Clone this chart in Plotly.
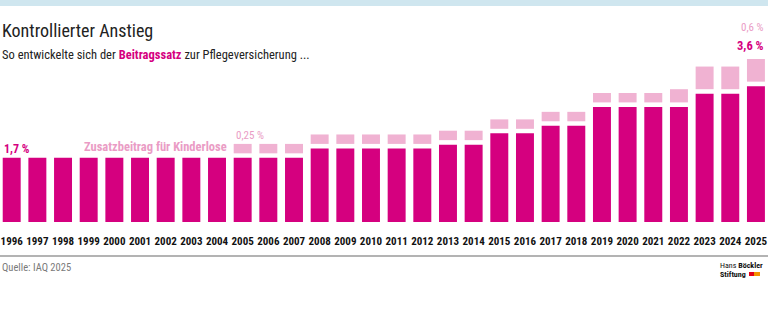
import plotly.graph_objects as go

years = [str(y) for y in range(1996, 2026)]
base_rate = [1.7]*12 + [1.95]*5 + [2.05]*2 + [2.35]*2 + [2.55]*2 + [3.05]*4 + [3.4]*2 + [3.6]
surcharge = [0]*9 + [0.25]*17 + [0.35] + [0.6]*3

MAGENTA = "#d5007f"
PINK = "#f0b2d2"
PINK_TXT = "#ea9cc5"
FONT = "Roboto Condensed"
GAP = 0.12

sur_base = [b + GAP for b in base_rate]
sur_y = [s if s > 0 else None for s in surcharge]

fig = go.Figure()
fig.add_trace(go.Bar(x=years, y=base_rate, marker=dict(color=MAGENTA, line=dict(width=0)),
                     hoverinfo="skip"))
fig.add_trace(go.Bar(x=years, y=sur_y, base=sur_base, marker=dict(color=PINK, line=dict(width=0)),
                     hoverinfo="skip"))

fig.update_layout(
    width=768, height=322,
    margin=dict(l=0, r=0, t=56, b=100),
    barmode="overlay", bargap=0.3,
    plot_bgcolor="white", paper_bgcolor="white",
    showlegend=False,
    font=dict(family=FONT),
    xaxis=dict(range=[-0.456, 29.47], showgrid=False, zeroline=False, showline=False,
               ticks="", tickangle=0,
               tickfont=dict(family=FONT, size=11, color="#111", weight="bold"),
               ticklabelstandoff=11),
    yaxis=dict(range=[0, 4.4], visible=False),
)

def py(pix):
    return (222 - pix) / 166

shapes = [
    dict(type="rect", xref="paper", yref="paper", x0=0, x1=1, y0=py(6), y1=py(-2),
         fillcolor="#cfe6ef", line=dict(width=0), layer="below"),
    dict(type="line", xref="paper", yref="paper", x0=0, x1=1, y0=py(256), y1=py(256),
         line=dict(color="#b3b3b3", width=2)),
    dict(type="rect", xref="paper", yref="paper", x0=749/768, x1=754/768, y0=py(276), y1=py(272),
         fillcolor="#e2001a", line=dict(width=0)),
    dict(type="rect", xref="paper", yref="paper", x0=754/768, x1=760/768, y0=py(276), y1=py(272),
         fillcolor="#f39200", line=dict(width=0)),
]
fig.update_layout(shapes=shapes)

ann = [
    dict(text="Kontrollierter Anstieg", x=0, y=py(30), xanchor="left", yanchor="middle",
         font=dict(size=18, color="#222")),
    dict(text="So entwickelte sich der <b><span style='color:%s'>Beitragssatz</span></b> zur Pflegeversicherung ..." % MAGENTA,
         x=0, y=py(54), xanchor="left", yanchor="middle", font=dict(size=12.5, color="#222")),
    dict(text="<b>1,7 %</b>", x=2/768, y=py(149), xanchor="left", yanchor="middle",
         font=dict(size=12, color=MAGENTA)),
    dict(text="<b>Zusatzbeitrag für Kinderlose</b>", x=82/768, y=py(146), xanchor="left", yanchor="middle",
         font=dict(size=12.5, color=PINK_TXT)),
    dict(text="0,25 %", x=234/768, y=py(135), xanchor="left", yanchor="middle",
         font=dict(size=11, color=PINK_TXT)),
    dict(text="0,6 %", x=766/768, y=py(28), xanchor="right", yanchor="middle",
         font=dict(size=11, color=PINK_TXT)),
    dict(text="<b>3,6 %</b>", x=766/768, y=py(46), xanchor="right", yanchor="middle",
         font=dict(size=12.5, color=MAGENTA)),
    dict(text="Quelle: IAQ 2025", x=0, y=py(267), xanchor="left", yanchor="middle",
         font=dict(size=10.5, color="#7a7a7a")),
    dict(text="Hans <b>Böckler</b>", x=718/768, y=py(265.5), xanchor="left", yanchor="middle",
         font=dict(size=8, color="#111")),
    dict(text="<b>Stiftung</b>", x=718/768, y=py(274.5), xanchor="left", yanchor="middle",
         font=dict(size=8, color="#111")),
]
for a in ann:
    a.update(xref="paper", yref="paper", showarrow=False)
fig.update_layout(annotations=ann)

fig.write_html("out.html")
